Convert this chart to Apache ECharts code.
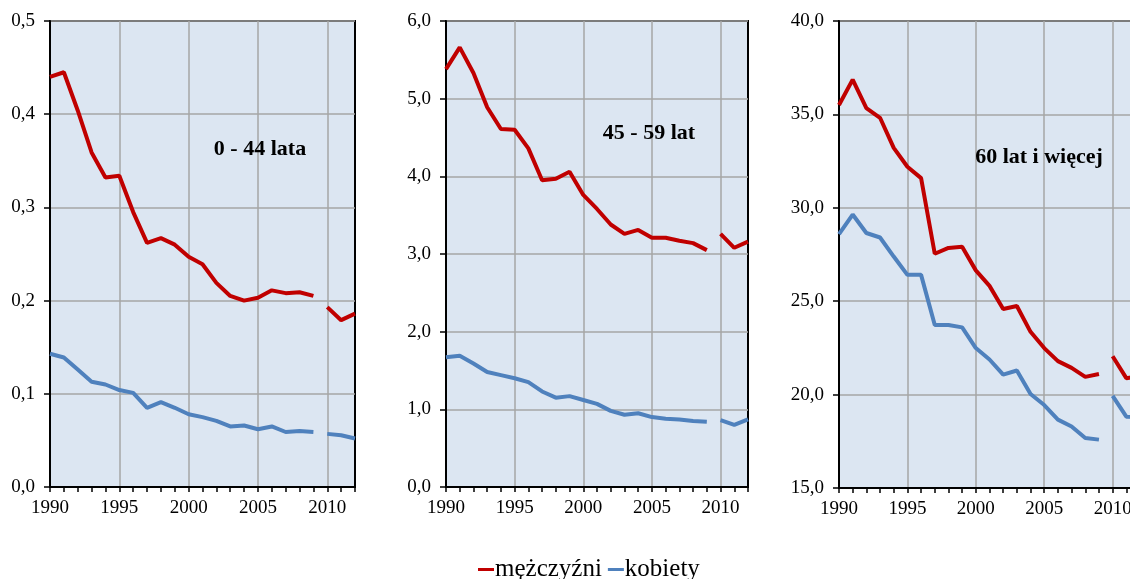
<!DOCTYPE html>
<html>
<head>
    <meta charset="utf-8">
    <title>Zgony według wieku</title>
    <script src="https://cdn.jsdelivr.net/npm/echarts@6/dist/echarts.min.js"></script>
    <style type="text/css">
        html, body { margin: 0; padding: 0; background: #fff; overflow: hidden; }
        /* a bit wider than the window: the third panel is cut off at the right edge */
        #main { width: 1145px; height: 579px; }
    </style>
</head>
<body>
    <div id="main"></div>

    <script type="text/javascript">

        var years = [];
        for (var y = 1990; y <= 2012; y++) years.push(String(y));

        // 0 - 44 lata
        var men1 = [0.440, 0.445, 0.404, 0.359, 0.332, 0.334, 0.295, 0.262, 0.267, 0.260, 0.247, 0.239,
                    0.219, 0.205, 0.200, 0.203, 0.211, 0.208, 0.209, 0.205, 0.193, 0.179, 0.186];
        var women1 = [0.143, 0.139, 0.126, 0.113, 0.110, 0.104, 0.101, 0.085, 0.091, 0.085, 0.078, 0.075,
                      0.071, 0.065, 0.066, 0.062, 0.065, 0.059, 0.060, 0.059, 0.057, 0.0555, 0.052];

        // 45 - 59 lat
        var men2 = [5.38, 5.66, 5.33, 4.89, 4.61, 4.60, 4.36, 3.95, 3.97, 4.06, 3.76, 3.58,
                    3.38, 3.26, 3.31, 3.21, 3.21, 3.17, 3.14, 3.05, 3.26, 3.08, 3.16];
        var women2 = [1.67, 1.69, 1.59, 1.48, 1.44, 1.40, 1.35, 1.23, 1.15, 1.17, 1.12, 1.07,
                      0.98, 0.93, 0.95, 0.90, 0.88, 0.87, 0.85, 0.84, 0.86, 0.80, 0.87];

        // 60 lat i więcej
        var men3 = [35.5, 36.86, 35.34, 34.82, 33.21, 32.20, 31.59, 27.54, 27.85, 27.91, 26.65, 25.82,
                    24.58, 24.74, 23.36, 22.49, 21.79, 21.43, 20.95, 21.10, 22.05, 20.88, 21.0];
        var women3 = [28.59, 29.64, 28.65, 28.41, 27.39, 26.41, 26.41, 23.73, 23.73, 23.60, 22.49, 21.88,
                      21.07, 21.29, 20.03, 19.44, 18.66, 18.29, 17.68, 17.59, 19.93, 18.82, 18.8];

        var panelTitles = ['0 - 44 lata', '45 - 59 lat', '60 lat i więcej'];
        var yRanges = [[0, 0.5, 0.1], [0, 6, 1], [15, 40, 5]];
        var breakYear = '2010';

        var font = "'Liberation Serif', 'Times New Roman', serif";
        var red = '#c00000';
        var blue = '#4f81bd';

        var chart = echarts.init(document.getElementById('main'));

        var grids = [
            { left: 50, top: 21, width: 305, height: 466 },
            { left: 446, top: 21, width: 302, height: 466 },
            { left: 839, top: 21, width: 301, height: 467 }
        ];
        grids.forEach(function (g) {
            g.show = true;
            g.backgroundColor = '#dce6f2';
            g.borderColor = '#000';
            g.borderWidth = 2;
        });

        var xAxes = [], yAxes = [], series = [];
        var cut = years.indexOf(breakYear);

        function part(arr, first) {
            return arr.map(function (v, i) {
                if (first) return i < cut ? v : '-';
                return i >= cut ? v : '-';
            });
        }

        function addLine(idx, name, color, arr) {
            [true, false].forEach(function (first) {
                series.push({
                    name: name,
                    type: 'line',
                    xAxisIndex: idx,
                    yAxisIndex: idx,
                    data: part(arr, first),
                    symbol: 'none',
                    smooth: false,
                    connectNulls: false,
                    itemStyle: { color: color },
                    lineStyle: { color: color, width: 4 }
                });
            });
        }

        var panels = [[men1, women1], [men2, women2], [men3, women3]];

        panels.forEach(function (p, i) {
            xAxes.push({
                type: 'category',
                gridIndex: i,
                data: years,
                boundaryGap: false,
                axisLine: { lineStyle: { color: '#000', width: 2 } },
                axisTick: { show: true, interval: 0, length: 5, lineStyle: { color: '#000', width: 1.5 } },
                axisLabel: { interval: 4, margin: 12, color: '#000', fontFamily: font, fontSize: 19 },
                splitLine: { show: true, interval: 4, lineStyle: { color: '#a6a6a6', width: 1.5 } }
            });
            yAxes.push({
                type: 'value',
                gridIndex: i,
                min: yRanges[i][0],
                max: yRanges[i][1],
                interval: yRanges[i][2],
                axisLine: { show: true, lineStyle: { color: '#000', width: 2 } },
                axisTick: { show: true, length: 6, lineStyle: { color: '#000', width: 1.5 } },
                axisLabel: {
                    margin: 15,
                    color: '#000',
                    fontFamily: font,
                    fontSize: 19,
                    formatter: function (v) { return v.toFixed(1).replace('.', ','); }
                },
                splitLine: { show: true, lineStyle: { color: '#a6a6a6', width: 1.5 } }
            });
            addLine(i, 'mężczyźni', red, p[0]);
            addLine(i, 'kobiety', blue, p[1]);
        });

        var titlePos = [[260, 138], [649, 122], [1039, 146]];

        var option = {
            animation: false,
            title: panelTitles.map(function (t, i) {
                return {
                    text: t,
                    left: titlePos[i][0],
                    top: titlePos[i][1],
                    textAlign: 'center',
                    padding: 0,
                    textStyle: { fontFamily: font, fontSize: 22, fontWeight: 'bold', color: '#000' }
                };
            }),
            legend: {
                data: ['mężczyźni', 'kobiety'],
                left: 473,
                top: 552,
                icon: 'rect',
                itemWidth: 16,
                itemHeight: 3,
                itemGap: 6,
                textStyle: { fontFamily: font, fontSize: 25, color: '#000', padding: [0, 0, 0, -4] }
            },
            grid: grids,
            xAxis: xAxes,
            yAxis: yAxes,
            series: series
        };
        chart.setOption(option);

    </script>
</body>
</html>
